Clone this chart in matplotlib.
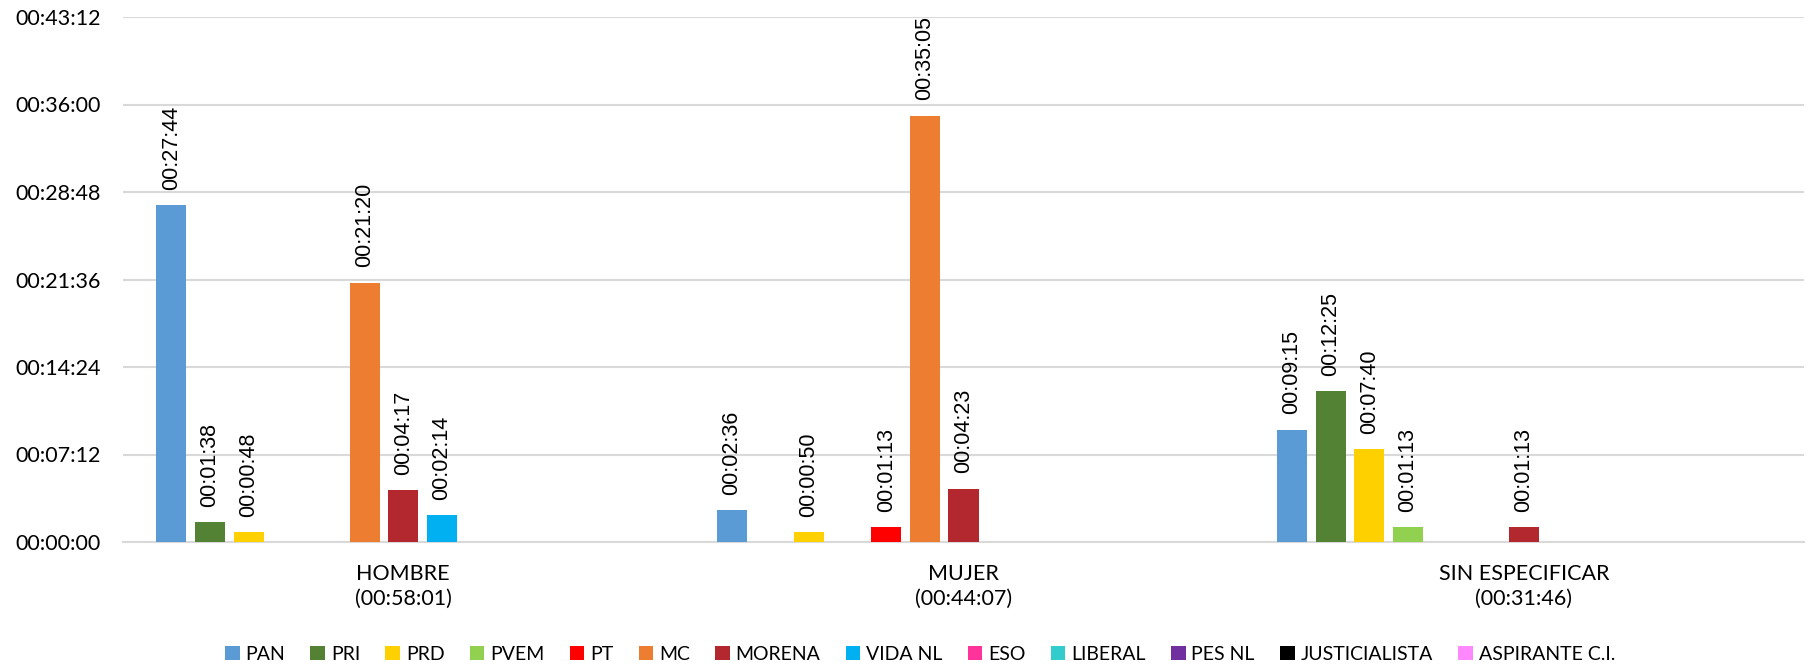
import numpy as np
import matplotlib.pyplot as plt
from matplotlib.patches import Patch
from matplotlib.ticker import FuncFormatter, MultipleLocator

# Categories with their totals
categories = ["HOMBRE\n(00:58:01)", "MUJER\n(00:44:07)", "SIN ESPECIFICAR\n(00:31:46)"]

parties = ["PAN", "PRI", "PRD", "PVEM", "PT", "MC", "MORENA", "VIDA NL",
           "ESO", "LIBERAL", "PES NL", "JUSTICIALISTA", "ASPIRANTE C.I."]

colors = ["#5B9BD5", "#548235", "#FFD000", "#92D050", "#FF0000", "#ED7D31", "#B2282E",
          "#00B0F0", "#FF3399", "#33CCCC", "#7030A0", "#000000", "#FF88FF"]

# Times as "MM:SS" per party, one list per category (empty = no time)
hombre = ["27:44", "01:38", "00:48", "", "", "21:20", "04:17", "02:14", "", "", "", "", ""]
mujer = ["02:36", "", "00:50", "", "01:13", "35:05", "04:23", "", "", "", "", "", ""]
sin_especificar = ["09:15", "12:25", "07:40", "01:13", "", "", "01:13", "", "", "", "", "", ""]


def to_seconds(t):
    if not t:
        return 0
    m, s = t.split(":")
    return int(m) * 60 + int(s)


def fmt_time(sec, pos=None):
    sec = int(round(sec))
    return f"{sec // 3600:02d}:{(sec % 3600) // 60:02d}:{sec % 60:02d}"


data = np.array([[to_seconds(t) for t in row] for row in [hombre, mujer, sin_especificar]])

tick_font = "Lato"
label_font = "Liberation Sans"

fig = plt.figure(figsize=(18.1, 6.65), dpi=100)
ax = fig.add_axes([123 / 1810, 123 / 665, 1681 / 1810, 525 / 665])

x = np.arange(len(categories))
step = 38.6 / 560
width = 30 / 560

for i, party in enumerate(parties):
    pos = x + (i - 6) * step
    vals = data[:, i]
    ax.bar(pos, vals, width, color=colors[i], zorder=3)
    for xp, v in zip(pos, vals):
        if v > 0:
            ax.annotate(fmt_time(v), (xp, v), xytext=(0, 11), textcoords="offset points",
                        rotation=90, ha="center", va="bottom", fontsize=15.5,
                        family=label_font, color="#000000")

ax.set_xlim(-0.5, 2.5)
ax.set_ylim(0, 2592)
ax.yaxis.set_major_locator(MultipleLocator(432))
ax.yaxis.set_major_formatter(FuncFormatter(fmt_time))
ax.grid(axis="y", color="#D9D9D9", linewidth=1.5, zorder=0)
ax.set_xticks(x)
ax.set_xticklabels(categories, fontsize=15.5, family=tick_font, linespacing=1.3)
ax.tick_params(axis="y", length=0, pad=16)
ax.tick_params(axis="x", length=0, pad=16)
for lbl in ax.get_yticklabels():
    lbl.set_fontsize(15.5)
    lbl.set_family(tick_font)
for side in ["top", "right", "left"]:
    ax.spines[side].set_visible(False)
ax.spines["bottom"].set_color("#D9D9D9")
ax.spines["bottom"].set_linewidth(1.5)

handles = [Patch(facecolor=c, label=p) for p, c in zip(parties, colors)]
fig.legend(handles=handles, loc="center", bbox_to_anchor=(920 / 1810, 11 / 665), ncol=13,
           frameon=False, borderpad=0, borderaxespad=0, handlelength=0.75,
           handleheight=0.75, handletextpad=0.3, columnspacing=1.3,
           prop={"family": tick_font, "size": 14})

fig.savefig("out.png", dpi=100)
